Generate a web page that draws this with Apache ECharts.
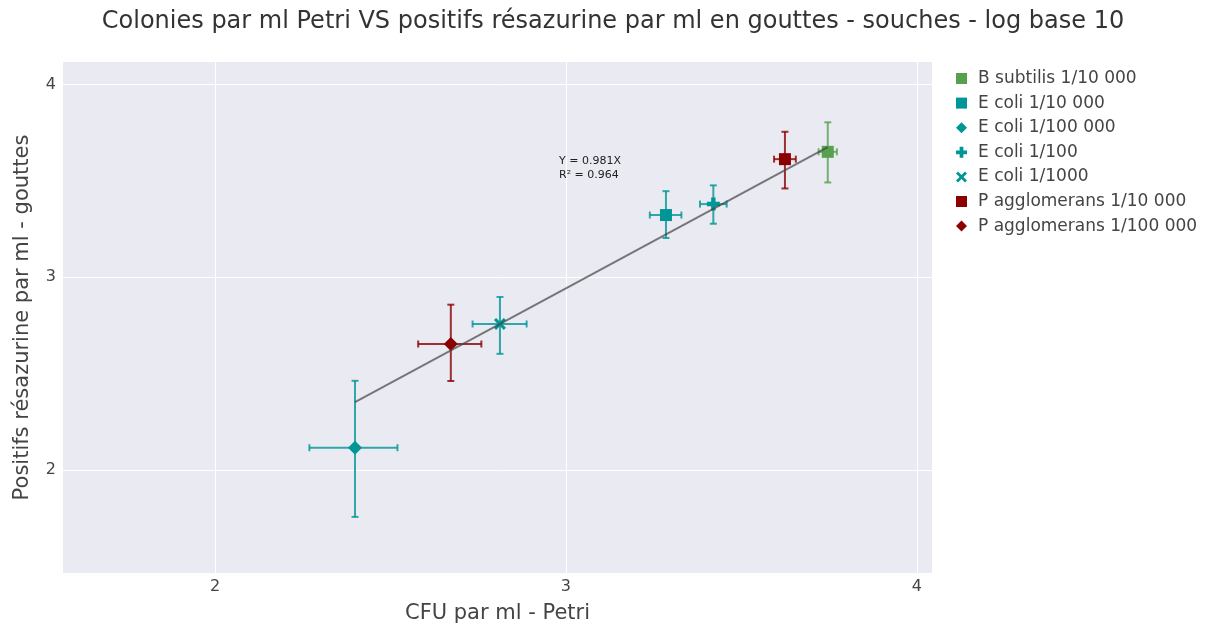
<!DOCTYPE html>
<html>
<head>
<meta charset="utf-8">
<script src="https://cdn.jsdelivr.net/npm/echarts@6/dist/echarts.min.js"></script>
<style>
  html, body { margin: 0; padding: 0; background: #fff; }
  #chart { width: 1206px; height: 624px; }
</style>
</head>
<body>
<div id="chart"></div>
<script>
// souches (log10)
var names = ["B subtilis 1/10 000", "E coli 1/10 000", "E coli 1/100 000", "E coli 1/100",
             "E coli 1/1000", "P agglomerans 1/10 000", "P agglomerans 1/100 000"];
var cfuX = [3.746, 3.285, 2.399, 3.420, 2.812, 3.624, 2.672];
var resY = [3.651, 3.323, 2.116, 3.380, 2.758, 3.613, 2.654];
var xErrMinus = [0.026, 0.046, 0.130, 0.038, 0.078, 0.031, 0.093];
var xErrPlus  = [0.026, 0.044, 0.121, 0.038, 0.076, 0.031, 0.087];
var yErrMinus = [0.159, 0.119, 0.359, 0.102, 0.155, 0.152, 0.192];
var yErrPlus  = [0.153, 0.124, 0.347, 0.097, 0.140, 0.142, 0.204];
// droite de regression
var fitX = [2.399, 3.746];
var fitY = [2.353, 3.675];
var axisTicks = [2, 3, 4];

var PLUS = "path://M3.3,0H6.7V3.3H10V6.7H6.7V10H3.3V6.7H0V3.3H3.3Z";
var CROSS = "path://M1.8,0L5,3.2L8.2,0L10,1.8L6.8,5L10,8.2L8.2,10L5,6.8L1.8,10L0,8.2L3.2,5L0,1.8Z";
var colors = ["#55a14d", "#009696", "#009696", "#009696", "#009696", "#8b0000", "#8b0000"];
var symbols = ["rect", "rect", "diamond", PLUS, CROSS, "rect", "diamond"];
var sizes = [12, 12, 14, 13, 12, 12, 14];

var font = "DejaVu Sans";
var series = [];

names.forEach(function(n, i) {
    series.push({
        name: n + " err",
        type: "custom",
        z: 2,
        silent: true,
        data: [[cfuX[i], resY[i], xErrMinus[i], xErrPlus[i], yErrMinus[i], yErrPlus[i]]],
        renderItem: function(params, api) {
            var x = api.value(0), y = api.value(1);
            var l = api.coord([x - api.value(2), y]);
            var r = api.coord([x + api.value(3), y]);
            var b = api.coord([x, y - api.value(4)]);
            var t = api.coord([x, y + api.value(5)]);
            var st = { stroke: colors[i], lineWidth: 2, opacity: 0.8 };
            var cap = 3.5;
            return {
                type: "group",
                children: [
                    { type: "line", shape: { x1: l[0], y1: l[1], x2: r[0], y2: r[1] }, style: st },
                    { type: "line", shape: { x1: l[0], y1: l[1] - cap, x2: l[0], y2: l[1] + cap }, style: st },
                    { type: "line", shape: { x1: r[0], y1: r[1] - cap, x2: r[0], y2: r[1] + cap }, style: st },
                    { type: "line", shape: { x1: b[0], y1: b[1], x2: t[0], y2: t[1] }, style: st },
                    { type: "line", shape: { x1: b[0] - cap, y1: b[1], x2: b[0] + cap, y2: b[1] }, style: st },
                    { type: "line", shape: { x1: t[0] - cap, y1: t[1], x2: t[0] + cap, y2: t[1] }, style: st }
                ]
            };
        }
    });
    series.push({
        name: n,
        type: "scatter",
        z: 3,
        symbol: symbols[i],
        symbolSize: sizes[i],
        itemStyle: { color: colors[i], opacity: 1 },
        data: [[cfuX[i], resY[i]]]
    });
});

series.push({
    name: "fit",
    type: "line",
    z: 4,
    silent: true,
    symbol: "none",
    lineStyle: { color: "#444", width: 2, opacity: 0.7 },
    data: fitX.map(function(x, i) { return [x, fitY[i]]; })
});

var chart = echarts.init(document.getElementById("chart"));
chart.setOption({
    animation: false,
    title: {
        text: "Colonies par ml Petri VS positifs résazurine par ml en gouttes - souches - log base 10",
        left: 608,
        textAlign: "center",
        top: 5,
        textStyle: { fontFamily: font, fontSize: 24, fontWeight: "normal", color: "#333" }
    },
    legend: {
        orient: "vertical",
        left: 951,
        top: 65,
        itemWidth: 11,
        itemHeight: 11,
        itemGap: 7.6,
        data: names.map(function(n, i) { return { name: n, icon: symbols[i] }; }),
        textStyle: { fontFamily: font, fontSize: 17, lineHeight: 17, color: "#444", padding: [0, 0, 0, 6] }
    },
    grid: {
        left: 63, right: 274, top: 62, bottom: 51,
        outerBoundsMode: "none",
        containLabel: false,
        show: true, backgroundColor: "#eaeaf2", borderWidth: 0
    },
    graphic: [{
        type: "text",
        left: 559,
        top: 154,
        style: { text: "Y = 0.981X\nR² = 0.964", fontFamily: font, fontSize: 11, lineHeight: 14, fill: "#222" }
    }],
    xAxis: {
        type: "value",
        min: 1.567,
        max: 4.043,
        name: "CFU par ml - Petri",
        nameLocation: "middle",
        nameGap: 30,
        nameTextStyle: { fontFamily: font, fontSize: 21, color: "#444" },
        axisLine: { show: false },
        axisTick: { show: false, customValues: axisTicks },
        axisLabel: { fontFamily: font, fontSize: 16, color: "#444", margin: 6, customValues: axisTicks },
        splitLine: { lineStyle: { color: "#fff", width: 1 } }
    },
    yAxis: {
        type: "value",
        min: 1.466,
        max: 4.117,
        name: "Positifs résazurine par ml - gouttes",
        nameLocation: "middle",
        nameGap: 30,
        nameTextStyle: { fontFamily: font, fontSize: 21, color: "#444" },
        axisLine: { show: false },
        axisTick: { show: false, customValues: axisTicks },
        axisLabel: { fontFamily: font, fontSize: 16, color: "#444", margin: 7, customValues: axisTicks },
        splitLine: { lineStyle: { color: "#fff", width: 1 } }
    },
    series: series
});
</script>
</body>
</html>
